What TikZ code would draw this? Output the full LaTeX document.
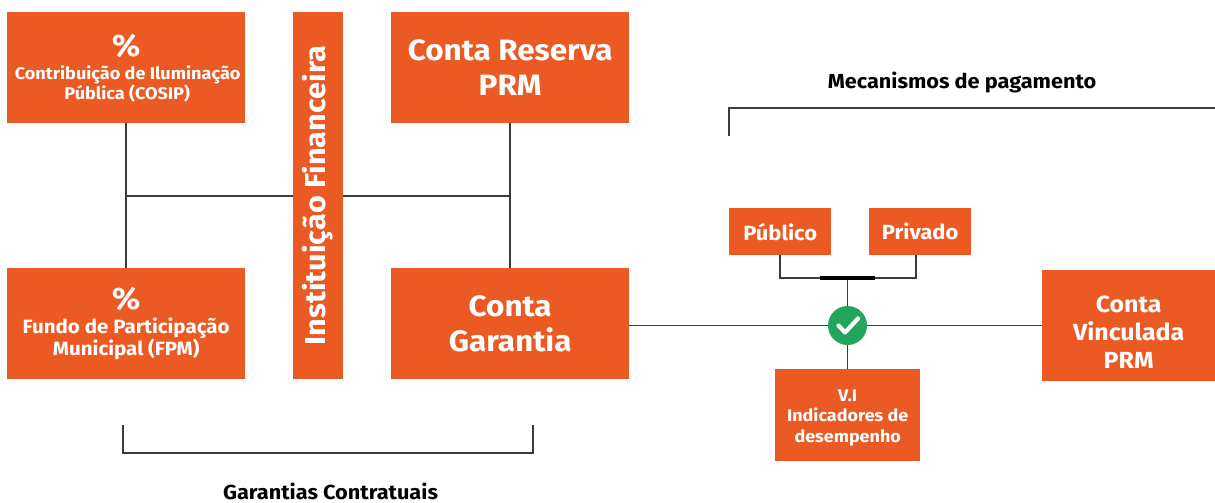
\documentclass[tikz,border=0pt]{standalone}
\usepackage{fontspec}
\setmainfont[FakeStretch=1.07]{Fira Sans}
\definecolor{brandorange}{HTML}{EB5A23}
\definecolor{linegray}{HTML}{3C3C3C}
\definecolor{okgreen}{HTML}{21A65B}
\tikzset{
  x=1pt,y=-1pt,
  orangebox/.style={fill=brandorange,text=white,align=center,inner sep=0pt,anchor=north west},
  wire/.style={draw=linegray,line width=1.1pt},
  captiontext/.style={font=\fontsize{20.3}{24}\selectfont\bfseries,text=black,inner sep=0pt}
}
\newcommand{\sz}[2]{\fontsize{#1}{#2}\selectfont\bfseries}
\newcommand{\obox}[7]{\node[orangebox,minimum width=#4pt,minimum height=#5pt,font=#6] (#1) at (#2,#3) {#7};}
\begin{document}
\begin{tikzpicture}
\useasboundingbox (0,0) rectangle (1215,503);
\obox{cosip}{7}{12}{238}{111}{\sz{16.9}{20}}{\rule{0pt}{24pt}{\fontsize{31}{31}\selectfont\%}\\[3pt]\hspace*{3pt}Contribuição de Iluminação\\\hspace*{2pt}Pública (COSIP)}
\obox{fpm}{7}{268}{238}{111}{\sz{19.2}{21}}{{\fontsize{31}{31}\selectfont\%}\\[3pt]Fundo de Participação\\Municipal (FPM)}
\obox{reserva}{391}{12}{238}{111}{\sz{29.4}{35}}{Conta Reserva\\PRM}
\obox{garantia}{391}{268}{238}{111}{\sz{29.4}{35}}{Conta\\Garantia}
\fill[brandorange] (293,12) rectangle (343,379);
\node[inner sep=0pt,rotate=90,text=white,font=\sz{28.7}{30}] (inst) at (318,195.5) {Instituição Financeira};
\coordinate (instL) at (293,196);
\coordinate (instR) at (343,196);
\obox{publico}{729}{208}{102}{47}{\sz{20.5}{24}}{Público}
\obox{privado}{869}{208}{102}{47}{\sz{20.5}{24}}{Privado}
\obox{vi}{775}{369}{145}{92}{\sz{16.8}{20.8}}{\rule{0pt}{17pt}V.I\\Indicadores de\\desempenho}
\obox{vinculada}{1042}{270}{173}{111}{\sz{23.3}{28}}{\rule{0pt}{30pt}Conta\\Vinculada\\PRM}
\coordinate (checkpos) at (847.5,325.5);
\coordinate (bar) at (847.5,278);
\coordinate (barL) at (820,278);
\coordinate (barR) at (875,278);
\coordinate (jl) at (126,196);
\coordinate (jr) at (510,196);
\draw[wire] (cosip.south -| jl) -- (fpm.north -| jl);
\draw[wire] (jl) -- (instL);
\draw[wire] (instR) -- (jr);
\draw[wire] (reserva.south -| jr) -- (garantia.north -| jr);
\node[circle,fill=okgreen,minimum size=39pt,inner sep=0pt] (check) at (checkpos) {};
\draw[wire] (garantia.east |- check) -- (check);
\draw[wire] (check) -- (vinculada.west |- check);
\draw[wire] (bar) -- (check);
\draw[wire] (check) -- (vi.north -| check);
\coordinate (pubdrop) at (780,255);
\coordinate (privdrop) at (916,255);
\draw[wire] (pubdrop) |- (barL);
\draw[wire] (privdrop) |- (barR);
\draw[black,line width=4.5pt] (barL) -- (barR);
\draw[white,line width=4.2pt,line cap=round,line join=round] (838.5,325.5) -- (845,332.5) -- (858,318.5);
\coordinate (b1) at (123,425);
\coordinate (b2) at (533,425);
\coordinate (b3) at (123,453);
\coordinate (b4) at (533,453);
\draw[wire] (b1) -- (b3) -- (b4) -- (b2);
\coordinate (m1) at (729,136);
\coordinate (m2) at (729,108);
\coordinate (m3) at (1215,108);
\draw[wire] (m1) -- (m2) -- (m3);
\node[captiontext] (mec) at (962,82.5) {Mecanismos de pagamento};
\node[captiontext] (gar) at (330.5,491) {Garantias Contratuais};
\end{tikzpicture}
\end{document}
